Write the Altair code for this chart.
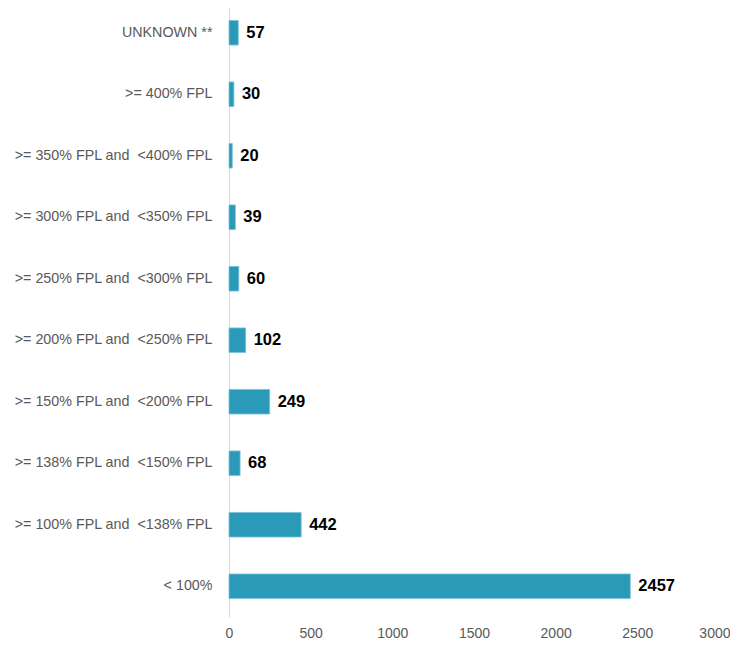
import altair as alt
import pandas as pd

categories = [
    "UNKNOWN **",
    ">= 400% FPL",
    ">= 350% FPL and \u00a0<400% FPL",
    ">= 300% FPL and \u00a0<350% FPL",
    ">= 250% FPL and \u00a0<300% FPL",
    ">= 200% FPL and \u00a0<250% FPL",
    ">= 150% FPL and \u00a0<200% FPL",
    ">= 138% FPL and \u00a0<150% FPL",
    ">= 100% FPL and \u00a0<138% FPL",
    "< 100%",
]
values = [57, 30, 20, 39, 60, 102, 249, 68, 442, 2457]
x_ticks = [0, 500, 1000, 1500, 2000, 2500, 3000]

df = pd.DataFrame({"cat": categories, "val": values})

y_enc = alt.Y(
    "cat:N",
    sort=categories,
    title=None,
    scale=alt.Scale(range=[-6, 609], paddingInner=0.6, paddingOuter=0.3),
    axis=alt.Axis(
        ticks=False,
        domain=True,
        domainColor="#d9d9d9",
        labelColor="#595959",
        labelFont="Liberation Sans",
        labelFontSize=14.3,
        labelPadding=17,
        labelLimit=300,
    ),
)
x_scale = alt.Scale(domain=[0, 3000], nice=False)

bars = alt.Chart(df).mark_bar(
    color="#2a9ab8", stroke="#7cc3d6", strokeWidth=0.8
).encode(
    x=alt.X(
        "val:Q",
        scale=x_scale,
        title=None,
        axis=alt.Axis(
            values=x_ticks,
            format="d",
            grid=False,
            domain=False,
            ticks=False,
            labelColor="#595959",
            labelFont="Liberation Sans",
            labelFontSize=14,
            labelPadding=9,
            labelAlign=alt.condition(
                "datum.value == 3000", alt.value("right"), alt.value("center")
            ),
            labelOffset=alt.condition(
                "datum.value == 3000", alt.value(11), alt.value(0)
            ),
        ),
    ),
    y=y_enc,
)

labels = alt.Chart(df).mark_text(
    align="left",
    baseline="middle",
    dx=8,
    font="Liberation Sans",
    fontSize=16.5,
    fontWeight="bold",
    color="#000000",
).encode(
    x=alt.X("val:Q", scale=x_scale),
    y=alt.Y("cat:N", sort=categories),
    text="val:Q",
)

chart = (
    alt.layer(bars, labels)
    .properties(
        width=490,
        height=609,
        background="white",
        autosize=alt.AutoSizeParams(type="none"),
        padding={"left": 221, "top": 0, "right": 11, "bottom": 22},
    )
    .configure_view(strokeWidth=0, stroke="transparent")
)

chart.save("out.html", embed_options={"renderer": "svg", "actions": False})
